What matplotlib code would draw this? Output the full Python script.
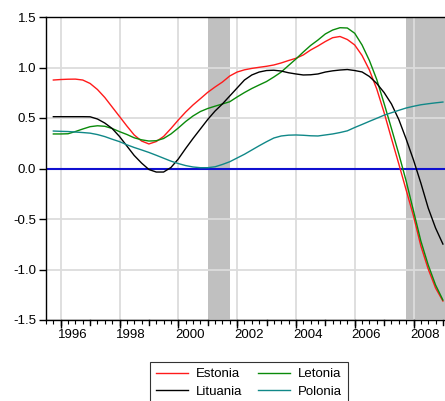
import numpy as np
import matplotlib
matplotlib.use("Agg")
import matplotlib.pyplot as plt
import matplotlib.transforms as mtransforms

plt.rcParams['font.family'] = ['Liberation Sans', 'DejaVu Sans']
plt.rcParams['axes.unicode_minus'] = False

# quarterly series, 1995Q4 .. 2009Q1
START = 1995.75
estonia = [0.876, 0.881, 0.884, 0.885, 0.876, 0.842, 0.782, 0.703, 0.609, 0.515,
           0.421, 0.332, 0.272, 0.243, 0.267, 0.317, 0.396, 0.48, 0.559, 0.629,
           0.691, 0.754, 0.807, 0.856, 0.916, 0.955, 0.977, 0.991, 1.002, 1.012,
           1.025, 1.045, 1.069, 1.091, 1.124, 1.173, 1.213, 1.257, 1.295, 1.307,
           1.277, 1.223, 1.119, 0.975, 0.787, 0.554, 0.297, 0.045, -0.213, -0.47,
           -0.767, -0.995, -1.183, -1.312]
letonia = [0.342, 0.342, 0.344, 0.366, 0.391, 0.414, 0.423, 0.418, 0.396, 0.365,
           0.337, 0.304, 0.284, 0.272, 0.275, 0.297, 0.342, 0.401, 0.465, 0.52,
           0.564, 0.594, 0.617, 0.639, 0.661, 0.708, 0.752, 0.792, 0.827, 0.861,
           0.906, 0.955, 1.02, 1.084, 1.153, 1.218, 1.272, 1.332, 1.371, 1.394,
           1.391, 1.339, 1.223, 1.069, 0.881, 0.644, 0.396, 0.144, -0.124, -0.42,
           -0.718, -0.955, -1.153, -1.302]
lituania = [0.513, 0.513, 0.513, 0.513, 0.513, 0.512, 0.49, 0.45, 0.396, 0.317,
            0.223, 0.129, 0.054, -0.01, -0.035, -0.035, 0.01, 0.094, 0.198, 0.297,
            0.391, 0.485, 0.569, 0.639, 0.718, 0.797, 0.876, 0.926, 0.955, 0.97,
            0.973, 0.965, 0.948, 0.936, 0.926, 0.928, 0.936, 0.955, 0.967, 0.975,
            0.98, 0.97, 0.956, 0.911, 0.842, 0.752, 0.639, 0.485, 0.292, 0.084,
            -0.144, -0.391, -0.589, -0.748]
polonia = [0.371, 0.368, 0.366, 0.361, 0.356, 0.35, 0.336, 0.316, 0.29, 0.266,
           0.235, 0.208, 0.184, 0.159, 0.131, 0.102, 0.073, 0.049, 0.029, 0.015,
           0.008, 0.008, 0.017, 0.04, 0.067, 0.104, 0.141, 0.183, 0.225, 0.265,
           0.302, 0.322, 0.33, 0.332, 0.329, 0.324, 0.322, 0.332, 0.342, 0.356,
           0.373, 0.406, 0.436, 0.467, 0.497, 0.528, 0.552, 0.576, 0.599, 0.616,
           0.631, 0.641, 0.65, 0.658]

# recession bands
recessions = [(2001.0, 2001.75), (2007.75, 2009.5)]
year_labels = [1996, 1998, 2000, 2002, 2004, 2006, 2008]

t = START + 0.25 * np.arange(len(estonia))

fig = plt.figure(figsize=(4.45, 4.01), dpi=100)
ax = fig.add_axes([46 / 445, 81 / 401, 402 / 445, 303 / 401])

for a, b in recessions:
    ax.axvspan(a, b, color='#c0c0c0', lw=0, zorder=0)

ax.set_axisbelow(True)
ax.grid(True, color='#dcdcdc', lw=1.3)

ax.axhline(0, color='#1010d0', lw=1.5, zorder=2)
l_est, = ax.plot(t, estonia, color='#ff1a1a', lw=1.0, label='Estonia', zorder=3)
l_let, = ax.plot(t, letonia, color='#0a8a0a', lw=1.0, label='Letonia', zorder=3)
l_lit, = ax.plot(t, lituania, color='black', lw=1.0, label='Lituania', zorder=3)
l_pol, = ax.plot(t, polonia, color='#108888', lw=1.0, label='Polonia', zorder=3)

ax.set_xlim(1995.5, 1995.5 + 402 / 29.4)
ax.set_ylim(-1.5, 1.5)
ax.set_yticks([-1.5, -1.0, -0.5, 0.0, 0.5, 1.0, 1.5])
ax.set_yticklabels(['%.1f' % v for v in ax.get_yticks()], fontsize=9.5)
ax.set_xticks(year_labels)
ax.set_xticklabels([])
ax.set_xticks(np.arange(1995.5, 2009.25, 0.25), minor=True)
ax.tick_params(axis='y', direction='out', length=5, width=1, pad=2)
ax.tick_params(axis='x', which='major', direction='out', length=6, width=1)
ax.tick_params(axis='x', which='minor', direction='out', length=3, width=0.8)

trans = mtransforms.blended_transform_factory(ax.transData, ax.transAxes)

# every year gets a long tick, but only even years have grid/labels
for yr in range(1996, 2010):
    ax.plot([yr, yr], [0, -0.018], color='black', lw=1, transform=trans,
            clip_on=False, zorder=4)

for yr in year_labels:
    ax.text(yr + 0.4, -0.03, str(yr), transform=trans, ha='center', va='top',
            fontsize=9.5)

for side in ['left', 'top', 'bottom']:
    ax.spines[side].set_linewidth(1.0)
ax.spines['right'].set_visible(False)

# column-wise fill: Estonia/Lituania in col 1, Letonia/Polonia in col 2
leg = fig.legend([l_est, l_lit, l_let, l_pol],
                 ['Estonia', 'Lituania', 'Letonia', 'Polonia'],
                 ncol=2, loc='upper center',
                 bbox_to_anchor=(249 / 445, 1 - 362 / 401),
                 fontsize=9.5, frameon=True, fancybox=False, edgecolor='black',
                 handlelength=2.4, handletextpad=0.6, columnspacing=1.2,
                 labelspacing=0.4, borderpad=0.45, borderaxespad=0)
leg.get_frame().set_linewidth(0.8)

fig.savefig('out.png', dpi=100)
